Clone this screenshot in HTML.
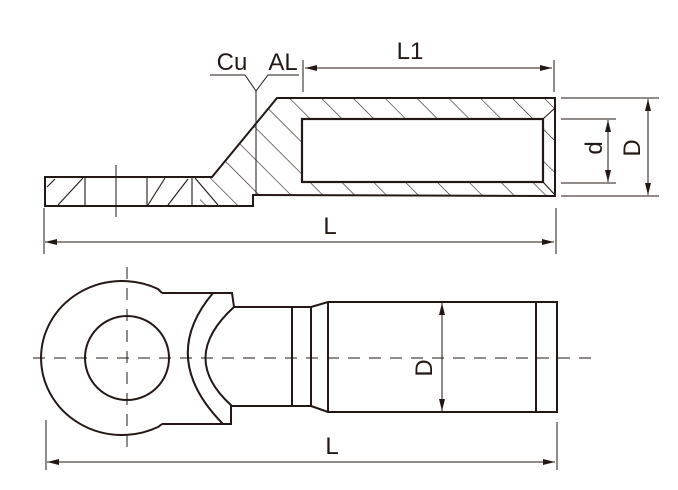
<!DOCTYPE html>
<html><head><meta charset="utf-8"><style>
html,body{margin:0;padding:0;background:#fff}
svg{display:block}
text{font-family:"Liberation Sans",Arial,sans-serif;fill:#231815}
</style></head><body>
<svg width="678" height="490" viewBox="0 0 678 490" xmlns="http://www.w3.org/2000/svg">
<defs>
<pattern id="h" patternUnits="userSpaceOnUse" width="22.5" height="22.5" patternTransform="rotate(-45)">
<line x1="0" y1="0" x2="0" y2="22.5" stroke="#231815" stroke-width="1.2"/>
</pattern>
<clipPath id="cr"><rect x="200" y="90" width="360" height="120"/></clipPath>
<marker id="a" markerWidth="12" markerHeight="6" refX="12" refY="3" orient="auto" markerUnits="userSpaceOnUse">
<path d="M0,0 L12,3 L0,6 z" fill="#231815"/></marker>
</defs>
<g stroke="#231815" fill="none">
<path clip-path="url(#cr)" fill="url(#h)" stroke="none" fill-rule="evenodd"
 d="M45,177 L212,177 L277,98 L555,98 L555,196 L253,195 L253,206 L45,206 Z M302,119 L543,119 L543,182 L302,182 Z"/>
<g stroke-width="1.1">
<line x1="47" y1="187" x2="55" y2="179"/>
<line x1="58" y1="205" x2="83" y2="178"/>
<line x1="85" y1="178" x2="85" y2="205"/>
<line x1="147" y1="178" x2="147" y2="205"/>
<line x1="148" y1="205" x2="165" y2="178"/>
<line x1="168" y1="205" x2="188" y2="179"/>
<line x1="192" y1="178" x2="192" y2="205"/>
<line x1="195" y1="178" x2="218" y2="205"/>
<line x1="543" y1="119" x2="555" y2="108"/>
<line x1="543" y1="182" x2="555" y2="195"/>
</g>
<path stroke-width="2" d="M45,177 L212,177 L277,98 L555,98 L555,196 L253,195 L253,206 L45,206 Z"/>
<rect x="302" y="119" width="241" height="63" stroke-width="2.2" fill="#fff"/>
<line x1="116" y1="165" x2="116" y2="217" stroke-width="1"/>
<g stroke-width="1">
<line x1="256" y1="91" x2="256" y2="195"/>
<polyline points="210,75 245,75 256,91 268,75 299,75"/>
<line x1="303" y1="60" x2="303" y2="92"/>
<line x1="554" y1="60" x2="554" y2="92"/>
<line x1="430" y1="68" x2="305" y2="68" marker-end="url(#a)"/>
<line x1="430" y1="68" x2="552" y2="68" marker-end="url(#a)"/>
<line x1="561" y1="98" x2="659" y2="98"/>
<line x1="561" y1="196" x2="659" y2="196"/>
<line x1="561" y1="119" x2="616" y2="119"/>
<line x1="561" y1="183" x2="616" y2="183"/>
<line x1="648" y1="148" x2="648" y2="99" marker-end="url(#a)"/>
<line x1="648" y1="148" x2="648" y2="195" marker-end="url(#a)"/>
<line x1="608" y1="150" x2="608" y2="120" marker-end="url(#a)"/>
<line x1="608" y1="150" x2="608" y2="182" marker-end="url(#a)"/>
<line x1="44" y1="208" x2="44" y2="254"/>
<line x1="556" y1="208" x2="556" y2="254"/>
<line x1="300" y1="242" x2="45" y2="242" marker-end="url(#a)"/>
<line x1="300" y1="242" x2="554" y2="242" marker-end="url(#a)"/>
</g>
<g stroke-width="2">
<path d="M162,293 L158,289 A81,77 0 1 0 158,427 L162,424"/>
<circle cx="127" cy="358" r="42"/>
<polyline points="162,293 232,293 234,307 311,307"/>
<polyline points="162,424 231,424 231,406 311,406"/>
<path d="M213,293 Q158,358 223,424"/>
<path d="M234,307 Q178,358 232,406"/>
<line x1="292" y1="307" x2="292" y2="406"/>
<line x1="311" y1="307" x2="311" y2="406"/>
<polyline points="311,307 328,302 557,302 557,412 328,412 311,406"/>
<line x1="328" y1="302" x2="328" y2="412"/>
<line x1="536" y1="302" x2="536" y2="412"/>
</g>
<g stroke-width="1">
<line x1="33" y1="358" x2="597" y2="358" stroke-dasharray="12,9"/>
<line x1="127" y1="267" x2="127" y2="450" stroke-dasharray="12,9"/>
<line x1="442" y1="357" x2="442" y2="303" marker-end="url(#a)"/>
<line x1="442" y1="357" x2="442" y2="411" marker-end="url(#a)"/>
<line x1="46" y1="420" x2="46" y2="470"/>
<line x1="557" y1="422" x2="557" y2="470"/>
<line x1="300" y1="462" x2="47" y2="462" marker-end="url(#a)"/>
<line x1="300" y1="462" x2="555" y2="462" marker-end="url(#a)"/>
</g>
</g>
<g font-size="24">
<text x="232" y="70" text-anchor="middle">Cu</text>
<text x="283" y="70" text-anchor="middle">AL</text>
<text x="410" y="59" text-anchor="middle">L1</text>
<text x="330" y="234" text-anchor="middle">L</text>
<text x="332" y="454" text-anchor="middle">L</text>
<text transform="translate(602,148) rotate(-90)" text-anchor="middle">d</text>
<text transform="translate(640,148) rotate(-90)" text-anchor="middle">D</text>
<text transform="translate(432,368) rotate(-90)" text-anchor="middle">D</text>
</g>
</svg>
</body></html>
